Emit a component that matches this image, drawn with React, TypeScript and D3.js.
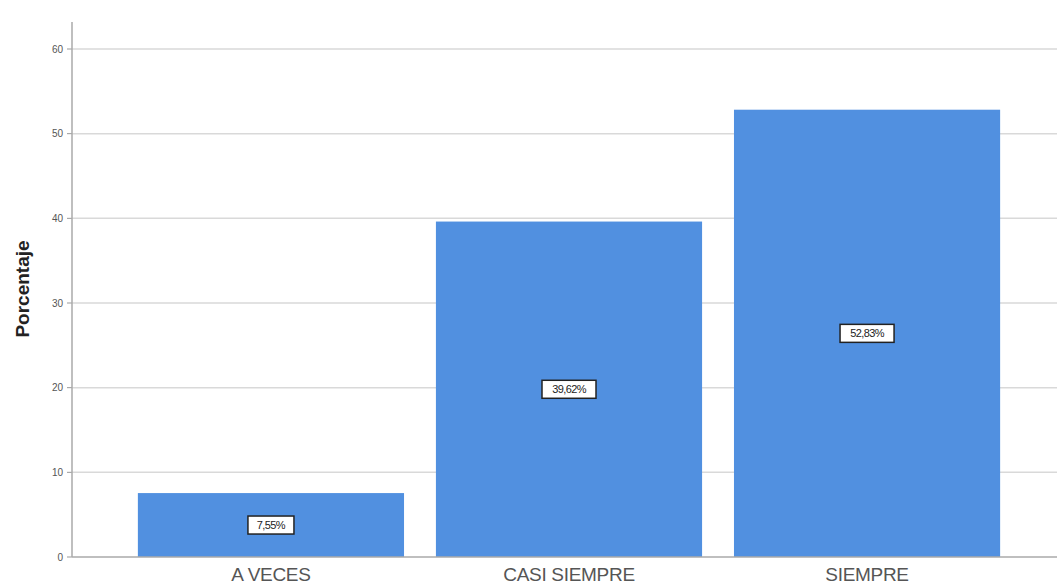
import React from "react";
import * as d3 from "d3";

const categories = ["A VECES", "CASI SIEMPRE", "SIEMPRE"];
const values = [7.55, 39.62, 52.83];
const valueLabels = ["7,55%", "39,62%", "52,83%"];
const yTicks = [0, 10, 20, 30, 40, 50, 60];

export default function App() {
  const W = 1057, H = 587;
  const left = 72, right = 1066, top = 22, bottom = 557;
  const x = d3.scaleBand<string>().domain(categories).range([left, right]).paddingInner(0.107).paddingOuter(0.221);
  const y = d3.scaleLinear().domain([0, 60]).range([bottom, 49]);
  return (
    <svg width={W} height={H} style={{ position: "absolute", left: 0, top: 0, background: "#fff" }} fontFamily="Arial, Liberation Sans, sans-serif">
      {yTicks.map((t) => (
        <g key={t}>
          {t > 0 && <line x1={left} x2={W} y1={y(t)} y2={y(t)} stroke="#d9d9d9" strokeWidth={1.5} />}
          <line x1={left - 5} x2={left} y1={y(t)} y2={y(t)} stroke="#999" />
          <text x={left - 9} y={y(t)} dy="0.35em" textAnchor="end" fontSize={10} fill="#555">{t}</text>
        </g>
      ))}
      {categories.map((c, i) => {
        const bx = x(c)!;
        const bw = x.bandwidth();
        const cy = y(values[i] / 2);
        const boxW = valueLabels[i].length * 8 + 6;
        return (
          <g key={c}>
            <rect x={bx} y={y(values[i])} width={bw} height={bottom - y(values[i])} fill="#5190e0" />
            <rect x={bx + bw / 2 - boxW / 2} y={cy - 9} width={boxW} height={18} fill="#fff" stroke="#222" strokeWidth={1.5} />
            <text x={bx + bw / 2} y={cy} dy="0.35em" textAnchor="middle" fontSize={11} fill="#222" letterSpacing={-0.6}>{valueLabels[i]}</text>
            <text x={bx + bw / 2} y={581} textAnchor="middle" fontSize={19} fill="#555" letterSpacing={-0.3}>{c}</text>
          </g>
        );
      })}
      <line x1={left} x2={left} y1={top} y2={bottom} stroke="#aaa" strokeWidth={1.5} />
      <line x1={left} x2={W} y1={bottom} y2={bottom} stroke="#aaa" strokeWidth={1.5} />
      <text transform={`translate(29,289) rotate(-90)`} textAnchor="middle" fontSize={19} fontWeight="bold" fill="#222">Porcentaje</text>
    </svg>
  );
}
